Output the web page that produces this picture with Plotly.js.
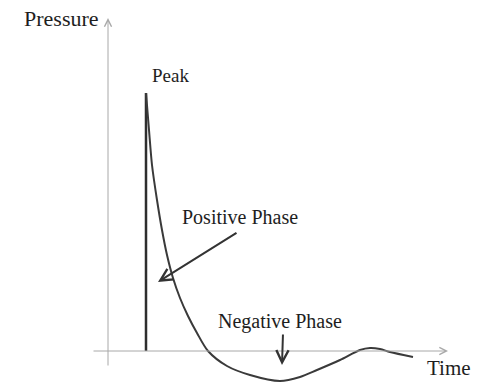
<!DOCTYPE html>
<html>
<head>
<meta charset="utf-8">
<script src="https://cdn.plot.ly/plotly-3.0.1.min.js"></script>
<style>html,body{margin:0;padding:0;background:#fff;}#chart{width:490px;height:387px;}</style>
</head>
<body>
<div id="chart"></div>
<script>
// Blast wave pressure-time history (arbitrary units)
var time =     [3.8, 4.1, 4.4, 4.9, 5.4, 5.9, 6.5, 7.2, 8.0, 8.9, 10.0, 11.9, 14.2, 17.2, 19.2, 20.9, 23.2, 25.2, 26.2, 27.2, 28.2, 30.5];
var pressure = [25.8, 22.1, 18.6, 15.1, 12.1, 9.6, 7.3, 5.3, 3.5, 1.8, 0.0, -1.5, -2.4, -3.0, -2.6, -1.9, -0.9, 0.1, 0.3, 0.2, -0.1, -0.6];
var peakTime = [3.8, 3.8];
var peakRise = [0, 25.8];

var axisLabels = {x: "Time", y: "Pressure"};
var labelText = ["Peak", "Positive Phase", "Negative Phase"];
var labelX = [6.2, 13.2, 17.2];
var labelY = [27.6, 13.4, 3.0];
var labelSize = [19, 20, 20];
var arrowTail = [[13.0, 11.9], [17.5, 1.8]];
var arrowHead = [[5.0, 6.9], [17.4, -1.4]];

var fam = "'Liberation Serif', 'Times New Roman', Times, serif";

var traces = [
  {x: peakTime, y: peakRise, mode: "lines", line: {color: "#2e2e2e", width: 2.5}, hoverinfo: "skip"},
  {x: time, y: pressure, mode: "lines", line: {color: "#3a3a3a", width: 2, shape: "spline", smoothing: 0.8}, hoverinfo: "skip"}
];

var ann = [];
// axes with open arrowheads
ann.push({x: 0, y: 33.3, ax: 0, ay: -1.6, xref: "x", yref: "y", axref: "x", ayref: "y",
  showarrow: true, arrowhead: 5, arrowsize: 1.4, arrowwidth: 1, arrowcolor: "#a8a8a8", text: ""});
ann.push({x: 34.0, y: 0, ax: -1.6, ay: 0, xref: "x", yref: "y", axref: "x", ayref: "y",
  showarrow: true, arrowhead: 5, arrowsize: 1.4, arrowwidth: 1, arrowcolor: "#a8a8a8", text: ""});
ann.push({x: -4.65, y: 33.3, xref: "x", yref: "y", text: axisLabels.y, showarrow: false,
  font: {family: fam, size: 22, color: "#1e1e1e"}});
ann.push({x: 34.1, y: -1.7, xref: "x", yref: "y", text: axisLabels.x, showarrow: false,
  font: {family: fam, size: 21, color: "#1e1e1e"}});
for (var i = 0; i < labelText.length; i++) {
  ann.push({x: labelX[i], y: labelY[i], xref: "x", yref: "y", text: labelText[i], showarrow: false,
    font: {family: fam, size: labelSize[i], color: "#1e1e1e"}});
}
for (var j = 0; j < arrowTail.length; j++) {
  ann.push({x: arrowHead[j][0], y: arrowHead[j][1], ax: arrowTail[j][0], ay: arrowTail[j][1],
    xref: "x", yref: "y", axref: "x", ayref: "y", showarrow: true, arrowhead: 5, arrowsize: 1.2,
    arrowwidth: 2, arrowcolor: "#333", text: ""});
}

var layout = {
  width: 490, height: 387,
  margin: {l: 0, r: 0, t: 0, b: 0},
  paper_bgcolor: "#fff", plot_bgcolor: "#fff",
  showlegend: false,
  xaxis: {range: [-10.8, 38.2], visible: false, fixedrange: true},
  yaxis: {range: [-3.6, 35.1], visible: false, fixedrange: true},
  annotations: ann
};
Plotly.newPlot("chart", traces, layout, {staticPlot: true, displayModeBar: false});
</script>
</body>
</html>
